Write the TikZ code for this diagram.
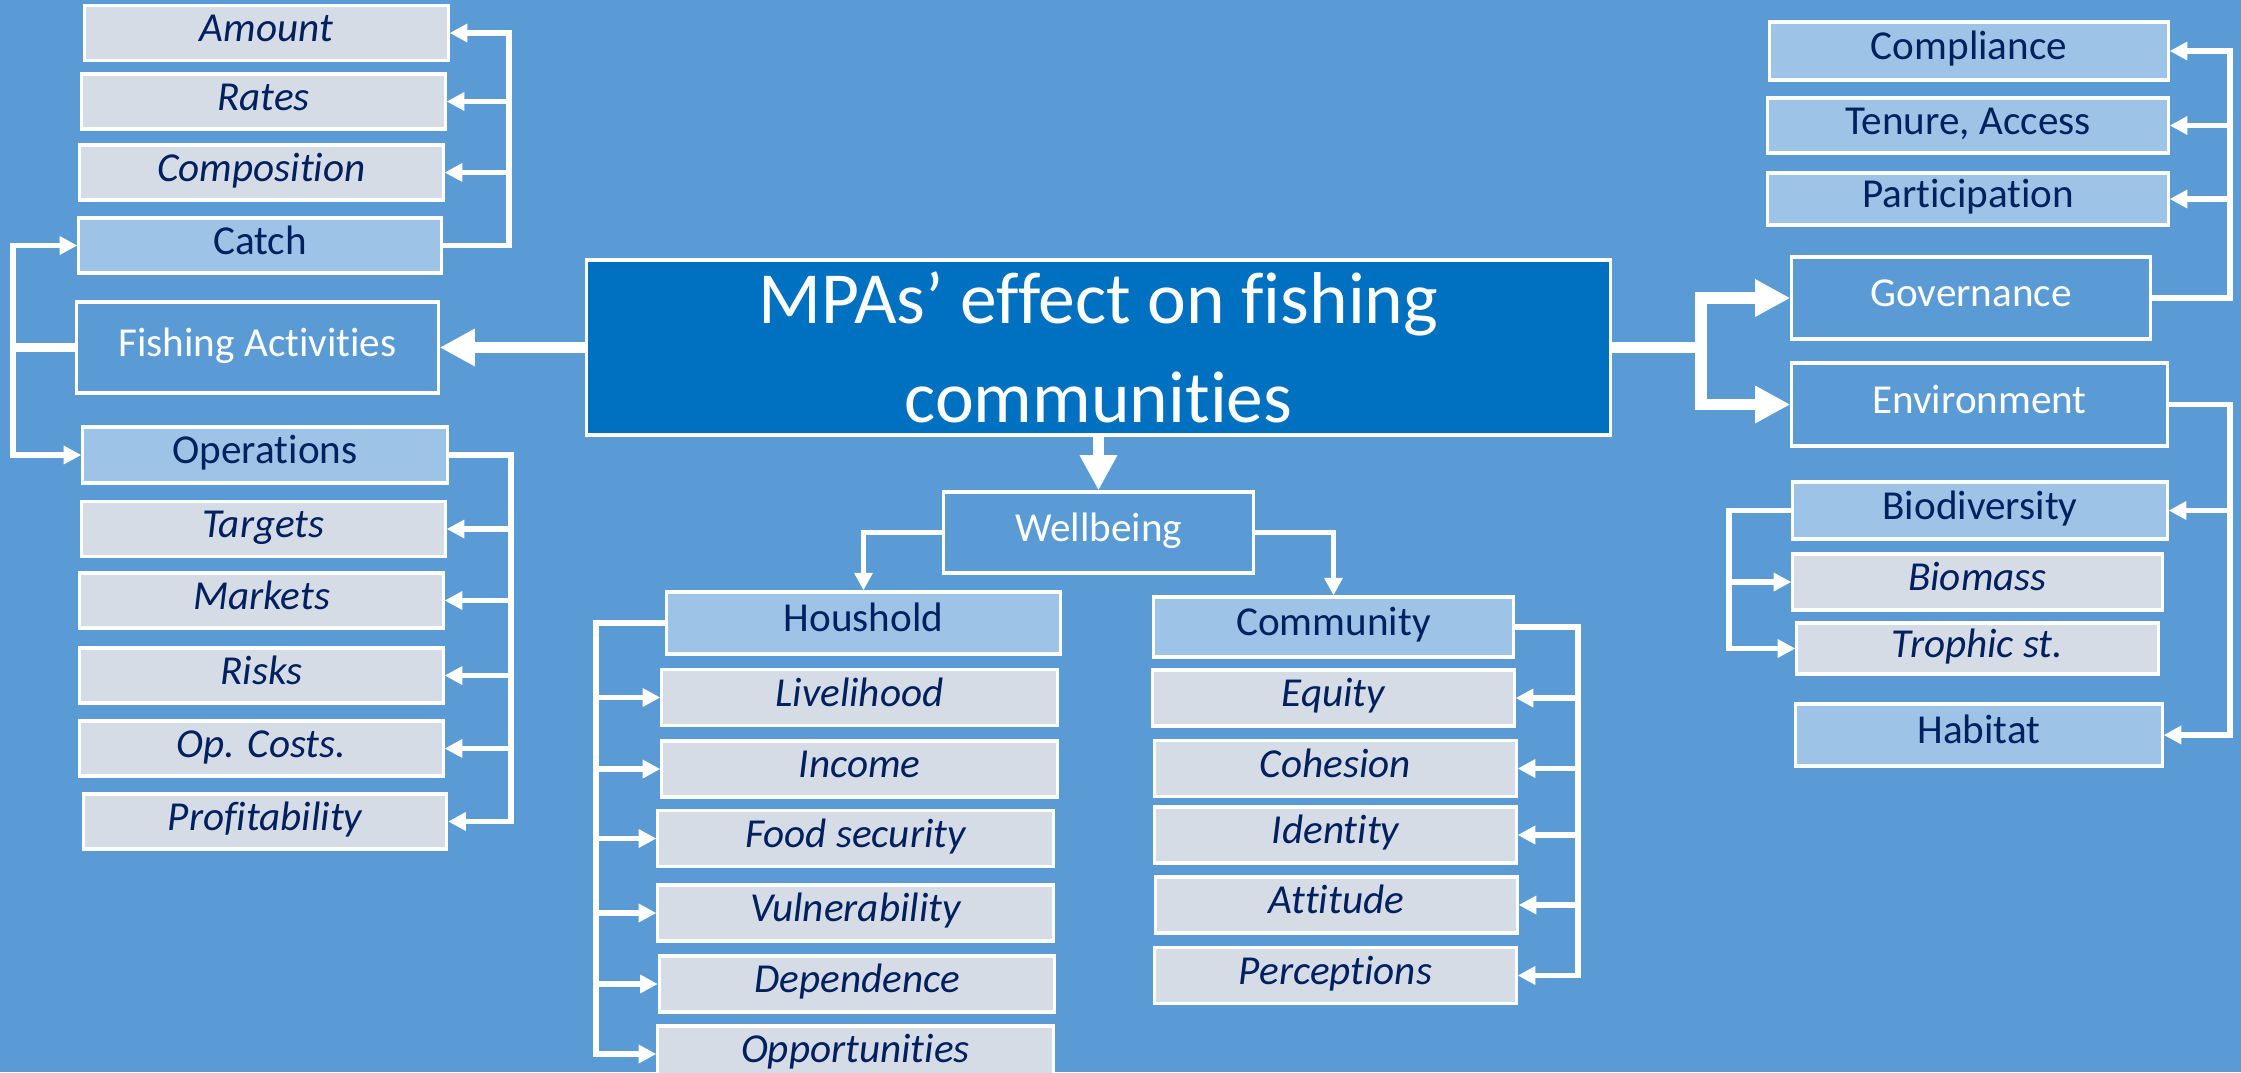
\documentclass[tikz,border=0pt]{standalone}
\usepackage{fontspec}
\setmainfont{Carlito}[Ligatures=NoCommon]
\usetikzlibrary{arrows.meta}

\definecolor{bgblue}{HTML}{5B9BD5}
\definecolor{mpablue}{HTML}{0070C0}
\definecolor{groupblue}{HTML}{9DC3E6}
\definecolor{itemgray}{HTML}{D6DCE5}
\definecolor{textnavy}{HTML}{002060}

\begin{document}
\begin{tikzpicture}[
    x=0.01cm,y=-0.01cm,
    base box/.style={draw=white,line width=0.9pt,rectangle,inner sep=0pt,
        text height=0.7em,text depth=0.2em,font=\fontsize{11.7}{14}\selectfont},
    title box/.style={draw=white,line width=0.9pt,fill=mpablue,text=white,
        align=center,font=\fontsize{20.9}{28.2}\selectfont,
        minimum width=10.23cm,minimum height=1.71cm},
    topic box/.style={base box,fill=bgblue,text=white},
    group box/.style={base box,fill=groupblue,text=textnavy},
    item box/.style={base box,fill=itemgray,text=textnavy,
        font=\fontsize{11.7}{14}\selectfont\itshape,
        minimum width=3.63cm,minimum height=0.55cm},
    arrow link/.style={draw=white,line width=1.6pt,
        -{Triangle[length=5pt,width=5pt]}},
    main link/.style={draw=white,line width=3.4pt,
        -{Triangle[length=10pt,width=10pt]}},
    main line/.style={draw=white,line width=3.4pt},
    stub line/.style={draw=white,line width=2.6pt}
]
    \fill[bgblue] (0,0) rectangle (2241,1072);
    \useasboundingbox (0,0) rectangle (2241,1072);

    % centre
    \node[title box] (mpa) at (1098.5,347.5) {MPAs’ effect on fishing\\communities};
    \node[topic box,minimum width=3.09cm,minimum height=0.81cm] (wellbeing) at (1098.5,532.5) {Wellbeing};

    % fishing activities branch
    \node[topic box,minimum width=3.61cm,minimum height=0.91cm] (fishing) at (257.5,347.5) {Fishing Activities};
    \node[group box,minimum width=3.62cm,minimum height=0.55cm] (catch) at (260,245.5) {Catch};
    \node[group box,minimum width=3.64cm,minimum height=0.56cm] (operations) at (265,455) {Operations};
    \foreach \name/\x/\y/\txt in {amount/266.5/33/Amount,rates/263.5/101.5/Rates,
        composition/261.5/172.5/Composition,targets/263.5/529/Targets,
        markets/261.5/600.5/Markets,risks/261.5/675.5/Risks,
        opcosts/261.5/748.5/{Op. Costs.},profit/265/821.5/Profitability} {
        \node[item box] (\name) at (\x,\y) {\txt};
    }

    % wellbeing branch
    \node[group box,minimum width=3.93cm,minimum height=0.62cm] (houshold) at (863.5,623) {Houshold};
    \node[group box,minimum width=3.59cm,minimum height=0.60cm] (community) at (1333.5,627) {Community};
    \foreach \name/\x/\y/\txt in {livelihood/859.5/697.5/Livelihood,income/859.5/769/Income,
        foodsec/855.5/838.5/{Food security},vulner/855.5/913/Vulnerability,
        dependence/857/984/Dependence,opport/855.5/1054/Opportunities} {
        \node[item box,minimum width=3.95cm,minimum height=0.56cm] (\name) at (\x,\y) {\txt};
    }
    \foreach \name/\x/\y/\txt in {equity/1333.5/698/Equity,cohesion/1335.5/768.5/Cohesion,
        identity/1335.5/835/Identity,attitude/1336.5/905/Attitude,
        perceptions/1335.5/975.5/Perceptions} {
        \node[item box,minimum width=3.61cm,minimum height=0.56cm] (\name) at (\x,\y) {\txt};
    }

    % governance and environment branch
    \node[topic box,minimum width=3.58cm,minimum height=0.82cm] (governance) at (1971,298) {Governance};
    \node[topic box,minimum width=3.75cm,minimum height=0.83cm] (environment) at (1979.5,404.5) {Environment};
    \node[group box,minimum width=3.98cm,minimum height=0.58cm] (compliance) at (1969,51) {Compliance};
    \node[group box,minimum width=4.00cm,minimum height=0.55cm] (tenure) at (1968,125.5) {Tenure, Access};
    \node[group box,minimum width=4.00cm,minimum height=0.52cm] (participation) at (1968,199) {Participation};
    \node[group box,minimum width=3.74cm,minimum height=0.57cm] (biodiversity) at (1980,510.5) {Biodiversity};
    \node[item box,minimum width=3.69cm,minimum height=0.56cm] (biomass) at (1977.5,582) {Biomass};
    \node[item box,minimum width=3.61cm,minimum height=0.51cm] (trophic) at (1977.5,648.5) {Trophic st.};
    \node[group box,minimum width=3.66cm,minimum height=0.62cm] (habitat) at (1979,735) {Habitat};

    % bus points
    \coordinate (mp bus) at (1701,347.5);
    \coordinate (fa bus) at (13,347.5);
    \coordinate (ct bus) at (509,245.5);
    \coordinate (op bus) at (511,455);
    \coordinate (hh bus) at (596,623);
    \coordinate (cm bus) at (1578,627);
    \coordinate (gv bus) at (2230,298);
    \coordinate (en bus) at (2230,404.5);
    \coordinate (bd bus) at (1729,510.5);

    % main arrows
    \draw[main link] (mpa.west) -- (fishing.east);
    \draw[main link] (mpa.south) -- (wellbeing.north);
    \draw[main line] (mpa.east) -- (mp bus);
    \draw[main link] (mp bus) |- (governance.west);
    \draw[main link] (mp bus) |- (environment.west);

    % fishing activities
    \draw[stub line] (fishing.west) -- (fa bus);
    \draw[arrow link] (fa bus) |- (catch.west);
    \draw[arrow link] (fa bus) |- (operations.west);
    \draw[arrow link] (catch.east) -- (ct bus) |- (amount.east);
    \foreach \name in {rates,composition}
        \draw[arrow link] (ct bus) |- (\name.east);
    \draw[arrow link] (operations.east) -- (op bus) |- (profit.east);
    \foreach \name in {targets,markets,risks,opcosts}
        \draw[arrow link] (op bus) |- (\name.east);

    % wellbeing
    \draw[arrow link] (wellbeing.west) -| (houshold.north);
    \draw[arrow link] (wellbeing.east) -| (community.north);
    \draw[arrow link] (houshold.west) -- (hh bus) |- (opport.west);
    \foreach \name in {livelihood,income,foodsec,vulner,dependence}
        \draw[arrow link] (hh bus) |- (\name.west);
    \draw[arrow link] (community.east) -- (cm bus) |- (perceptions.east);
    \foreach \name in {equity,cohesion,identity,attitude}
        \draw[arrow link] (cm bus) |- (\name.east);

    % governance and environment
    \draw[arrow link] (governance.east) -- (gv bus) |- (compliance.east);
    \foreach \name in {tenure,participation}
        \draw[arrow link] (gv bus) |- (\name.east);
    \draw[arrow link] (environment.east) -- (en bus) |- (habitat.east);
    \draw[arrow link] (en bus) |- (biodiversity.east);
    \draw[arrow link] (biodiversity.west) -- (bd bus) |- (trophic.west);
    \draw[arrow link] (bd bus) |- (biomass.west);

\end{tikzpicture}
\end{document}
